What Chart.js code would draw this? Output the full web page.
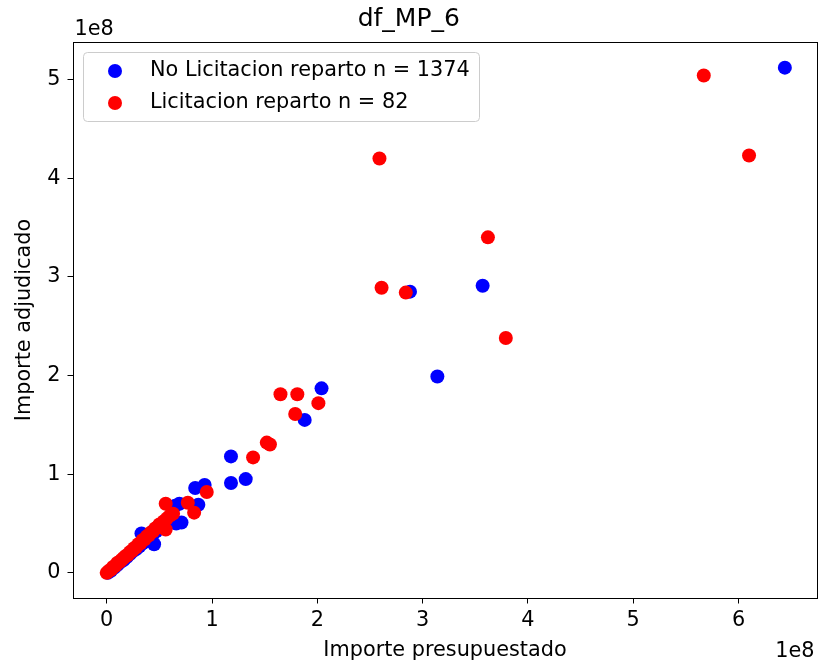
<!DOCTYPE html>
<html lang="es">
<head>
  <meta charset="UTF-8">
  <title>df_MP_6</title>
  <script src="https://cdn.jsdelivr.net/npm/chart.js"></script>
  <style>
    body { margin: 0; background: #fff; }
  </style>
</head>
<body>
  <canvas id="scatterChart" width="820" height="666"></canvas>

  <script>
    // Valores en unidades de 1e8
    const noLicX = [6.44, 3.57, 2.88, 3.14, 2.04, 1.88, 1.18, 1.18, 1.32, 0.93, 0.84, 0.87, 0.71, 0.65,
      0.45, 0.66, 0.60, 0.55, 0.50, 0.47, 0.43, 0.40, 0.37, 0.34, 0.33, 0.31, 0.28, 0.25, 0.22,
      0.19, 0.16, 0.13, 0.10, 0.07, 0.04, 0.01, 0.69];
    const noLicY = [5.12, 2.91, 2.85, 1.99, 1.87, 1.55, 1.18, 0.91, 0.95, 0.89, 0.86, 0.69, 0.51, 0.68,
      0.29, 0.50, 0.55, 0.50, 0.45, 0.42, 0.37, 0.35, 0.32, 0.30, 0.40, 0.27, 0.24, 0.22, 0.19,
      0.16, 0.13, 0.11, 0.08, 0.05, 0.02, 0.00, 0.70];

    const licX = [5.67, 6.10, 2.59, 3.62, 2.61, 2.84, 3.79, 1.65, 1.81, 2.01, 1.79, 1.52, 1.55, 1.39,
      0.95, 0.77, 0.83, 0.56, 0.63, 0.60, 0.57, 0.56, 0.54, 0.52, 0.50, 0.48, 0.46, 0.44, 0.42,
      0.40, 0.38, 0.36, 0.34, 0.32, 0.30, 0.28, 0.26, 0.24, 0.22, 0.20, 0.18, 0.16, 0.14, 0.12,
      0.10, 0.08, 0.06, 0.04, 0.02, 0.00];
    const licY = [5.04, 4.23, 4.20, 3.40, 2.89, 2.84, 2.38, 1.81, 1.81, 1.72, 1.61, 1.32, 1.30, 1.17,
      0.82, 0.71, 0.61, 0.70, 0.60, 0.58, 0.55, 0.44, 0.52, 0.47, 0.49, 0.46, 0.45, 0.42, 0.41,
      0.38, 0.37, 0.34, 0.33, 0.30, 0.29, 0.26, 0.25, 0.22, 0.21, 0.18, 0.17, 0.15, 0.13, 0.11,
      0.10, 0.07, 0.06, 0.03, 0.02, 0.00];

    const xTicks = [0, 1, 2, 3, 4, 5, 6];
    const yTicks = [0, 1, 2, 3, 4, 5];
    const labels = ['No Licitacion reparto n = 1374', 'Licitacion reparto n = 82'];
    const colors = ['#0000ff', '#ff0000'];

    const toPoints = (xs, ys) => xs.map((x, i) => ({ x: x, y: ys[i] }));

    const FONT = 20.8;
    Chart.defaults.font.family = 'DejaVu Sans';
    Chart.defaults.color = '#000';

    // marco completo de los ejes + textos "1e8"
    const framePlugin = {
      id: 'frame',
      afterDatasetsDraw(chart) {
        const { ctx, chartArea: a } = chart;
        ctx.save();
        ctx.strokeStyle = '#000';
        ctx.lineWidth = 1;
        ctx.strokeRect(Math.round(a.left) + 0.5, Math.round(a.top) + 0.5,
          Math.round(a.right - a.left) - 1, Math.round(a.bottom - a.top) - 1);
        ctx.font = FONT + 'px "DejaVu Sans"';
        ctx.fillStyle = '#000';
        ctx.textBaseline = 'alphabetic';
        ctx.textAlign = 'left';
        ctx.fillText('1e8', a.left + 2, a.top - 7);
        ctx.textAlign = 'right';
        ctx.fillText('1e8', a.right - 3, 657);
        ctx.restore();
      }
    };

    // leyenda dentro del area, estilo matplotlib
    const boxLegend = {
      id: 'boxLegend',
      afterDraw(chart) {
        const ctx = chart.ctx;
        ctx.save();
        ctx.beginPath();
        ctx.roundRect(83.5, 52.5, 396, 69, 4);
        ctx.fillStyle = 'rgba(255,255,255,0.8)';
        ctx.fill();
        ctx.strokeStyle = '#cccccc';
        ctx.lineWidth = 1;
        ctx.stroke();
        ctx.font = FONT + 'px "DejaVu Sans"';
        ctx.textBaseline = 'middle';
        ctx.textAlign = 'left';
        chart.data.datasets.forEach((ds, i) => {
          const y = 71 + i * 32;
          ctx.beginPath();
          ctx.arc(115, y, 7, 0, Math.PI * 2);
          ctx.fillStyle = ds.backgroundColor;
          ctx.fill();
          ctx.fillStyle = '#000';
          ctx.fillText(ds.label, 150, y);
        });
        ctx.restore();
      }
    };

    const ctx = document.getElementById('scatterChart').getContext('2d');
    const chart = new Chart(ctx, {
      type: 'scatter',
      data: {
        datasets: [
          {
            label: labels[0],
            data: toPoints(noLicX, noLicY),
            backgroundColor: colors[0],
            borderWidth: 0,
            pointRadius: 7,
            order: 2
          },
          {
            label: labels[1],
            data: toPoints(licX, licY),
            backgroundColor: colors[1],
            borderWidth: 0,
            pointRadius: 7,
            order: 1
          }
        ]
      },
      options: {
        responsive: false,
        animation: false,
        events: [],
        layout: { autoPadding: false, padding: { left: 0, right: 2.5, top: 0, bottom: 0 } },
        plugins: {
          legend: { display: false },
          tooltip: { enabled: false },
          title: {
            display: true,
            text: 'df_MP_6',
            font: { size: 25, weight: 'normal' },
            color: '#000',
            padding: { top: 4.5, bottom: 7 }
          }
        },
        scales: {
          x: {
            type: 'linear',
            min: -0.325,
            max: 6.75,
            afterBuildTicks: s => { s.ticks = xTicks.map(v => ({ value: v })); },
            afterFit: s => { s.height = 67.5; s.paddingLeft = 0; s.paddingRight = 0; },
            ticks: { font: { size: FONT }, padding: 5, color: '#000' },
            grid: { drawOnChartArea: false, drawTicks: true, tickLength: 5, color: '#000' },
            border: { display: false },
            title: {
              display: true,
              text: 'Importe presupuestado',
              font: { size: FONT },
              color: '#000',
              padding: { top: 0, bottom: 3 }
            }
          },
          y: {
            type: 'linear',
            min: -0.26,
            max: 5.385,
            afterBuildTicks: s => { s.ticks = yTicks.map(v => ({ value: v })); },
            afterFit: s => { s.width = 72.5; s.paddingTop = 0; s.paddingBottom = 0; },
            ticks: { font: { size: FONT }, padding: 7, color: '#000' },
            grid: { drawOnChartArea: false, drawTicks: true, tickLength: 5, color: '#000' },
            border: { display: false },
            title: {
              display: true,
              text: 'Importe adjudicado',
              font: { size: FONT },
              color: '#000',
              padding: { top: 12.5, bottom: 0 }
            }
          }
        }
      },
      plugins: [framePlugin, boxLegend]
    });
  </script>
</body>
</html>
